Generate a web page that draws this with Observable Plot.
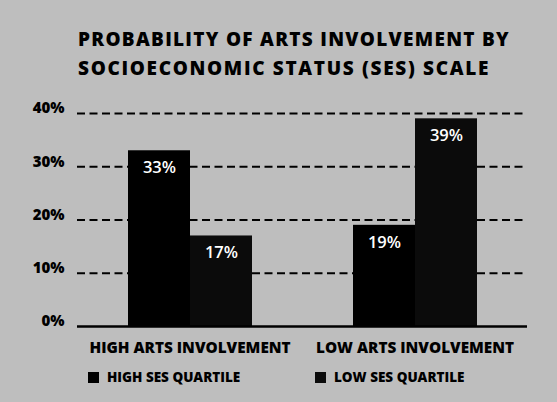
<!DOCTYPE html>
<html>
<head>
<meta charset="utf-8">
<script src="https://cdn.jsdelivr.net/npm/d3@7"></script>
<script src="https://cdn.jsdelivr.net/npm/@observablehq/plot@0.6"></script>
<style>
  html, body { margin: 0; padding: 0; }
  body { background: #bebebe; width: 557px; height: 402px; overflow: hidden; font-family: "Open Sans", sans-serif; }
  #wrap { position: relative; width: 557px; height: 402px; }
  #title { position: absolute; left: 78px; top: 25px; font-weight: 800; font-size: 19px; line-height: 29px; color: #000; white-space: nowrap; }
  #title span { display: block; }
  #chart { position: absolute; left: 0; top: 90px; }
  #legend { position: absolute; top: 368px; left: 0; width: 557px; height: 20px; font-weight: 800; font-size: 13.5px; color: #000; }
  .item { position: absolute; display: flex; align-items: center; gap: 8px; white-space: nowrap; }
  .sw { width: 11px; height: 11px; display: inline-block; }
</style>
</head>
<body>
<div id="wrap">
  <div id="title"></div>
  <div id="chart"></div>
  <div id="legend"></div>
</div>
<script>
const titleLines = ["PROBABILITY OF ARTS INVOLVEMENT BY", "SOCIOECONOMIC STATUS (SES) SCALE"];
const groups = ["HIGH ARTS INVOLVEMENT", "LOW ARTS INVOLVEMENT"];
const series = ["HIGH SES QUARTILE", "LOW SES QUARTILE"];
const highSES = [33, 19];
const lowSES = [17, 39];
const yTicks = [0, 10, 20, 30, 40];
const seriesColors = ["#000000", "#0b0b0b"];

const data = [];
groups.forEach((g, i) => {
  data.push({group: g, ses: series[0], value: highSES[i]});
  data.push({group: g, ses: series[1], value: lowSES[i]});
});

// Title
const titleEl = document.getElementById("title");
const targets = [432, 412];
titleLines.forEach((t, i) => {
  const s = document.createElement("span");
  s.textContent = t;
  titleEl.appendChild(s);
  s.style.display = "inline-block";
  const w = s.getBoundingClientRect().width;
  const ls = (targets[i] - w) / t.length;
  s.style.letterSpacing = ls + "px";
  s.style.display = "block";
});

const chart = Plot.plot({
  width: 557,
  height: 270,
  marginLeft: 77,
  marginRight: 30,
  marginTop: 23,
  marginBottom: 34,
  style: {background: "transparent", fontFamily: "Open Sans, sans-serif", color: "#000"},
  fx: {domain: groups, padding: 0},
  x: {domain: series, paddingInner: 0, paddingOuter: 0.8145, axis: null},
  y: {domain: [0, 40], axis: null},
  color: {domain: series, range: seriesColors},
  marks: [
    Plot.ruleY(yTicks.filter(d => d > 0), {stroke: "#000", strokeWidth: 1.8, strokeDasharray: "8,4.5"}),
    Plot.barY(data, {fx: "group", x: "ses", y: "value", fill: "ses"}),
    Plot.text(data, {fx: "group", x: "ses", y: "value", text: d => d.value + "%", fill: "#fff", dy: 17, fontSize: 16.5, fontWeight: 600}),
    Plot.ruleY([0], {stroke: "#000", strokeWidth: 2.6}),
    Plot.axisY({ticks: yTicks, tickSize: 0, tickPadding: 13, tickFormat: d => d + "%", fontSize: 15, fontWeight: 800, dy: -5, label: null}),
    Plot.axisFx({anchor: "bottom", tickSize: 0, tickPadding: 16, fontSize: 15.3, fontWeight: 800, label: null})
  ]
});
document.getElementById("chart").appendChild(chart);

// Legend
const legend = document.getElementById("legend");
const legendX = [88, 315];
series.forEach((s, i) => {
  const it = document.createElement("div");
  it.className = "item";
  it.style.left = legendX[i] + "px";
  it.style.top = "0px";
  const sw = document.createElement("span");
  sw.className = "sw";
  sw.style.background = seriesColors[i];
  const tx = document.createElement("span");
  tx.textContent = s;
  it.appendChild(sw);
  it.appendChild(tx);
  legend.appendChild(it);
});
</script>
</body>
</html>
